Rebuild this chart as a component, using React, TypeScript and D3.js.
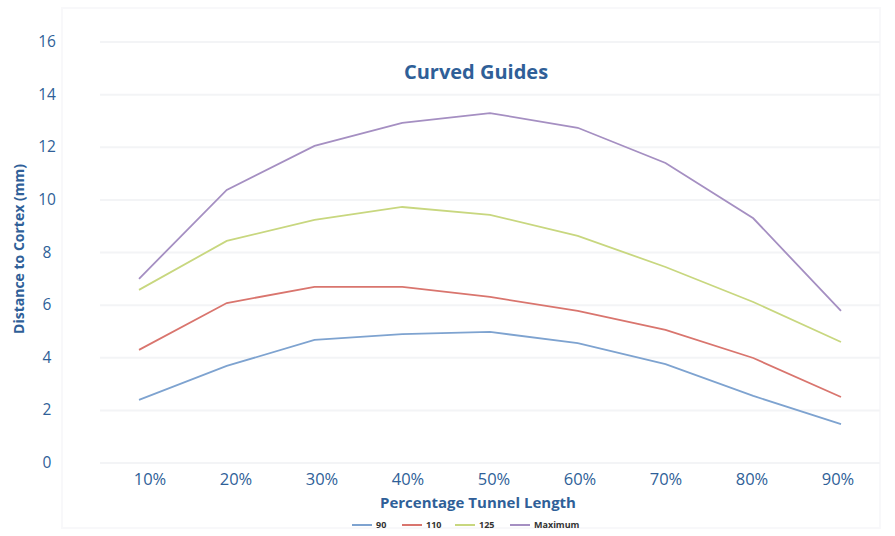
import React from "react";
import * as d3 from "d3";

const categories = ["10%", "20%", "30%", "40%", "50%", "60%", "70%", "80%", "90%"];
const yTicks = [0, 2, 4, 6, 8, 10, 12, 14, 16];
const seriesNames = ["90", "110", "125", "Maximum"];
const values90 = [2.4, 3.69, 4.68, 4.9, 4.98, 4.56, 3.76, 2.55, 1.48];
const values110 = [4.3, 6.08, 6.69, 6.69, 6.31, 5.78, 5.06, 3.99, 2.51];
const values125 = [6.58, 8.44, 9.24, 9.73, 9.43, 8.63, 7.45, 6.12, 4.6];
const valuesMax = [7.0, 10.38, 12.05, 12.93, 13.3, 12.74, 11.4, 9.3, 5.78];
const colors = ["#7ea3d0", "#d9756e", "#c8d77f", "#a58fc2"];

const W = 895;
const H = 536;
const textColor = "#2f5f98";
const font = "'Open Sans', 'Noto Sans', sans-serif";

export default function App() {
  const x = d3.scalePoint<string>().domain(categories).range([139, 841]);
  const xLabel = d3.scalePoint<string>().domain(categories).range([150, 838]);
  const y = d3.scaleLinear().domain([0, 16]).range([463, 42]);
  const series = [values90, values110, values125, valuesMax];
  const line = d3
    .line<number>()
    .x((_, i) => x(categories[i]) as number)
    .y((d) => y(d));

  const legendX = [352, 402, 455, 510];

  return (
    <svg
      width={W}
      height={H}
      style={{ position: "absolute", left: 0, top: 0, background: "#fff" }}
      fontFamily={font}
    >
      <rect x={62} y={8} width={818} height={520} fill="none" stroke="#f8f8fa" strokeWidth={2} />
      {yTicks.map((t) => (
        <line key={t} x1={100} x2={880} y1={y(t)} y2={y(t)} stroke="#f3f4f6" strokeWidth={2} />
      ))}
      {yTicks.map((t) => (
        <text key={"l" + t} x={47} y={y(t) + 5} textAnchor="middle" fontSize={15.5} fill={textColor}>
          {t}
        </text>
      ))}
      {categories.map((c) => (
        <text key={c} x={xLabel(c) as number} y={485} textAnchor="middle" fontSize={16.5} fill={textColor}>
          {c}
        </text>
      ))}
      {series.map((s, i) => (
        <path key={i} d={line(s) || ""} fill="none" stroke={colors[i]} strokeWidth={1.8} />
      ))}
      <text x={476} y={79} textAnchor="middle" fontSize={20} fontWeight="bold" fill={textColor}>
        Curved Guides
      </text>
      <text x={478} y={508} textAnchor="middle" fontSize={15} fontWeight="bold" fill={textColor}>
        Percentage Tunnel Length
      </text>
      <text
        transform="translate(24,249) rotate(-90)"
        textAnchor="middle"
        fontSize={14}
        fontWeight="bold"
        fill={textColor}
      >
        Distance to Cortex (mm)
      </text>
      {seriesNames.map((n, i) => (
        <g key={n}>
          <line
            x1={legendX[i]}
            x2={legendX[i] + 20}
            y1={525}
            y2={525}
            stroke={colors[i]}
            strokeWidth={2}
          />
          <text x={legendX[i] + 24} y={528} fontSize={9} fontWeight="bold" fill="#333">
            {n}
          </text>
        </g>
      ))}
    </svg>
  );
}
